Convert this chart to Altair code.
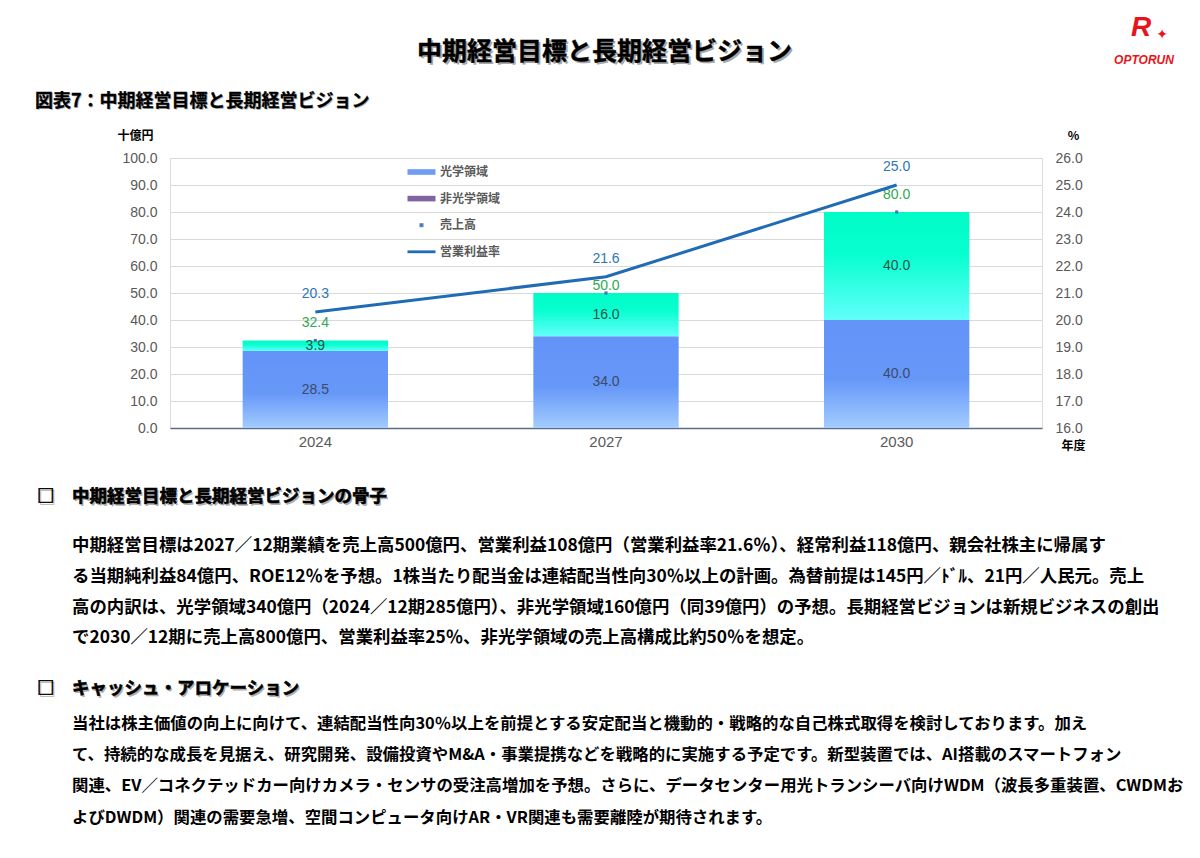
import altair as alt
import pandas as pd

# ---------------- data ----------------
years = ["2024", "2027", "2030"]
optical = [28.5, 34.0, 40.0]          # 光学領域 (十億円)
non_optical = [3.9, 16.0, 40.0]       # 非光学領域 (十億円)
sales = [32.4, 50.0, 80.0]            # 売上高 (十億円)
op_margin = [20.3, 21.6, 25.0]        # 営業利益率 (%)

legend_names = ["光学領域", "非光学領域", "売上高", "営業利益率"]
left_ticks = [0, 10, 20, 30, 40, 50, 60, 70, 80, 90, 100]
right_ticks = [16, 17, 18, 19, 20, 21, 22, 23, 24, 25, 26]

title_text = "中期経営目標と長期経営ビジョン"
subtitle_text = "図表7：中期経営目標と長期経営ビジョン"
heading1 = "□　中期経営目標と長期経営ビジョンの骨子"
body1 = [
    "中期経営目標は2027／12期業績を売上高500億円、営業利益108億円（営業利益率21.6％）、経常利益118億円、親会社株主に帰属す",
    "る当期純利益84億円、ROE12％を予想。1株当たり配当金は連結配当性向30％以上の計画。為替前提は145円／ﾄﾞﾙ、21円／人民元。売上",
    "高の内訳は、光学領域340億円（2024／12期285億円）、非光学領域160億円（同39億円）の予想。長期経営ビジョンは新規ビジネスの創出",
    "で2030／12期に売上高800億円、営業利益率25％、非光学領域の売上高構成比約50％を想定。",
]
heading2 = "□　キャッシュ・アロケーション"
body2 = [
    "当社は株主価値の向上に向けて、連結配当性向30％以上を前提とする安定配当と機動的・戦略的な自己株式取得を検討しております。加え",
    "て、持続的な成長を見据え、研究開発、設備投資やM&A・事業提携などを戦略的に実施する予定です。新型装置では、AI搭載のスマートフォン",
    "関連、EV／コネクテッドカー向けカメラ・センサの受注高増加を予想。さらに、データセンター用光トランシーバ向けWDM（波長多重装置、CWDMお",
    "よびDWDM）関連の需要急増、空間コンピュータ向けAR・VR関連も需要離陸が期待されます。",
]

df = pd.DataFrame({
    "year": years,
    "optical": optical,
    "non_optical": non_optical,
    "sales": sales,
    "margin": op_margin,
})
one = pd.DataFrame({"k": [0]})

JP = "Noto Sans CJK JP"
NUM = "Liberation Sans"
GRAY = "#595959"

# ---------------- scales / axes ----------------
X = alt.X(
    "year:N", sort=years,
    scale=alt.Scale(paddingInner=0.5, paddingOuter=0.25),
    axis=alt.Axis(
        title="年度", titleAngle=0, titleX=903, titleY=17, titleAlign="center",
        titleBaseline="middle", titleFont=JP, titleFontSize=12, titleFontWeight="bold",
        titleColor="#000000",
        labelAngle=0, labelFont=NUM, labelFontSize=15, labelColor=GRAY, labelPadding=6,
        ticks=False, domainColor="#5b6b8b", domainWidth=1.5, grid=False,
    ),
)

left_scale = alt.Scale(domain=[0, 100], nice=False, zero=True)
left_axis = alt.Axis(
    values=left_ticks, format=".1f", grid=True, gridColor="#d9d9d9", gridWidth=1.2,
    domain=False, ticks=False, labelPadding=13, labelFont=NUM, labelFontSize=14,
    labelColor=GRAY,
    title="十億円", titleAngle=0, titleX=-35, titleY=-23, titleAlign="center",
    titleBaseline="middle", titleFont=JP, titleFontSize=12, titleFontWeight="bold",
    titleColor="#000000",
)
right_scale = alt.Scale(domain=[16, 26], nice=False, zero=False)
right_axis = alt.Axis(
    orient="right", values=right_ticks, format=".1f", grid=False, domain=False,
    ticks=False, labelPadding=13, labelFont=NUM, labelFontSize=14, labelColor=GRAY,
    title="%", titleAngle=0, titleX=31, titleY=-23, titleAlign="center",
    titleBaseline="middle", titleFont=JP, titleFontSize=12, titleFontWeight="bold",
    titleColor="#000000",
)

grad_blue = alt.Gradient(
    gradient="linear", x1=0, x2=0, y1=0, y2=1,
    stops=[alt.GradientStop(offset=0, color="#6393f7"),
           alt.GradientStop(offset=0.55, color="#6698f8"),
           alt.GradientStop(offset=1, color="#a3ccff")],
)
grad_teal = alt.Gradient(
    gradient="linear", x1=0, x2=0, y1=0, y2=1,
    stops=[alt.GradientStop(offset=0, color="#00fcc6"),
           alt.GradientStop(offset=0.4, color="#08ffd0"),
           alt.GradientStop(offset=1, color="#62fffb")],
)

base = alt.Chart(df).transform_calculate(
    zero="0",
    mid_o="datum.optical / 2",
    mid_n="(datum.optical + datum.sales) / 2",
)

bar_opt = base.mark_bar(fill=grad_blue).encode(
    x=X, y=alt.Y("optical:Q", scale=left_scale, axis=left_axis), y2="zero:Q")
bar_non = base.mark_bar(fill=grad_teal).encode(
    x=X, y=alt.Y("sales:Q", scale=left_scale, axis=left_axis), y2="optical:Q")

lab_opt = base.mark_text(font=NUM, fontSize=14, color="#3d4a68", baseline="middle").encode(
    x=X, y=alt.Y("mid_o:Q", scale=left_scale, axis=left_axis),
    text=alt.Text("optical:Q", format=".1f"))
lab_non = base.mark_text(font=NUM, fontSize=14, color="#1f5548", baseline="middle").encode(
    x=X, y=alt.Y("mid_n:Q", scale=left_scale, axis=left_axis),
    text=alt.Text("non_optical:Q", format=".1f"))

sales_pt = base.mark_square(size=10, color="#4a72bf", opacity=1).encode(
    x=X, y=alt.Y("sales:Q", scale=left_scale, axis=left_axis))

sales_lab_a = base.transform_filter("datum.year != '2027'").mark_text(
    font=NUM, fontSize=14, color="#2ea84f", baseline="middle", dy=-17.5).encode(
    x=X, y=alt.Y("sales:Q", scale=left_scale, axis=left_axis),
    text=alt.Text("sales:Q", format=".1f"))
sales_lab_b = base.transform_filter("datum.year == '2027'").mark_text(
    font=NUM, fontSize=14, color="#2ea84f", baseline="middle", dy=-7).encode(
    x=X, y=alt.Y("sales:Q", scale=left_scale, axis=left_axis),
    text=alt.Text("sales:Q", format=".1f"))

# legend (custom symbols through a shape scale)
legend_colors = ["#6f9cf2", "#8064a2", "#4f7fc0", "#1f6bb5"]
legend_shapes = [
    "M-1.4,-0.28H1.4V0.28H-1.4Z",
    "M-1.4,-0.28H1.4V0.28H-1.4Z",
    "M-0.2,-0.2H0.2V0.2H-0.2Z",
    "M-1.4,-0.14H1.4V0.14H-1.4Z",
]
leg = alt.Legend(
    orient="none", legendX=241.5, legendY=4, title=None, padding=0,
    symbolSize=400, symbolStrokeWidth=0, symbolOpacity=1, rowPadding=10.6,
    labelOffset=8.5, labelFont=JP, labelFontSize=12, labelFontWeight="bold",
    labelColor=GRAY,
)
legend_layer = alt.Chart(pd.DataFrame({"series": legend_names})).mark_point(
    filled=True, opacity=0).encode(
    x=alt.value(0), y=alt.value(0),
    color=alt.Color("series:N", scale=alt.Scale(domain=legend_names, range=legend_colors), legend=leg),
    shape=alt.Shape("series:N", scale=alt.Scale(domain=legend_names, range=legend_shapes), legend=leg),
)

# ---------------- page texts ----------------
def txt(text, x, y, size, color="#000000", font=JP, weight="bold", align="left",
        baseline="middle", italic=False, line_height=None, stroke_w=None):
    kw = dict(text=text, font=font, fontSize=size, fontWeight=weight, color=color,
              align=align, baseline=baseline)
    if italic:
        kw["fontStyle"] = "italic"
    if line_height is not None:
        kw["lineBreak"] = "\n"
        kw["lineHeight"] = line_height
    if stroke_w is not None:
        kw["stroke"] = color
        kw["strokeWidth"] = stroke_w
    return alt.Chart(one).mark_text(**kw).encode(x=alt.value(x), y=alt.value(y))

annotations = [
    txt(title_text, 436.5, -104, 25, color="#a8a8a8", align="center"),
    txt(title_text, 434.5, -106, 25, align="center", stroke_w=0.4),
    txt(subtitle_text, -134, -55, 18, color="#b8b8b8"),
    txt(subtitle_text, -135, -56, 18, stroke_w=0.3),
    txt(heading1, -131.5, 340.5, 17.5, color="#b0b0b0"),
    txt(heading1, -133, 339, 17.5, stroke_w=0.6),
    txt("\n".join(body1), -98, 379.3, 17.4, baseline="top", line_height=30.7),
    txt(heading2, -131.5, 532.5, 17.5, color="#b0b0b0"),
    txt(heading2, -133, 531, 17.5, stroke_w=0.6),
    txt("\n".join(body2), -98, 557.8, 16.4, baseline="top", line_height=31.3),
    # logo
    txt("R", 971, -130, 28, color="#e8141c", font=NUM, italic=True, align="center"),
    txt("✦", 992, -123, 14, color="#e8141c", font="DejaVu Sans", align="center"),
    txt("OPTORUN", 974, -98, 12, color="#e8141c", font=NUM, italic=True, align="center"),
]

left = alt.layer(bar_opt, bar_non, lab_opt, lab_non, sales_pt, sales_lab_a, sales_lab_b,
                 legend_layer, *annotations)

line = alt.Chart(df).mark_line(color="#1f6bb5", strokeWidth=3).encode(
    x=X, y=alt.Y("margin:Q", scale=right_scale, axis=right_axis))
line_lab = alt.Chart(df).mark_text(font=NUM, fontSize=14, color="#2e75b6",
                                   baseline="middle", dy=-18).encode(
    x=X, y=alt.Y("margin:Q", scale=right_scale, axis=right_axis),
    text=alt.Text("margin:Q", format=".1f"))
right = alt.layer(line, line_lab)

chart = alt.layer(left, right).resolve_scale(y="independent").properties(
    width=872, height=270,
    padding={"left": 162, "top": 150, "right": 150, "bottom": 422},
    autosize=alt.AutoSizeParams(type="none"),
).configure_view(stroke=None).configure(background="#ffffff").configure_legend(
    rowPadding=10.6)

chart.save("out.html", embed_options={"renderer": "svg", "actions": False})
